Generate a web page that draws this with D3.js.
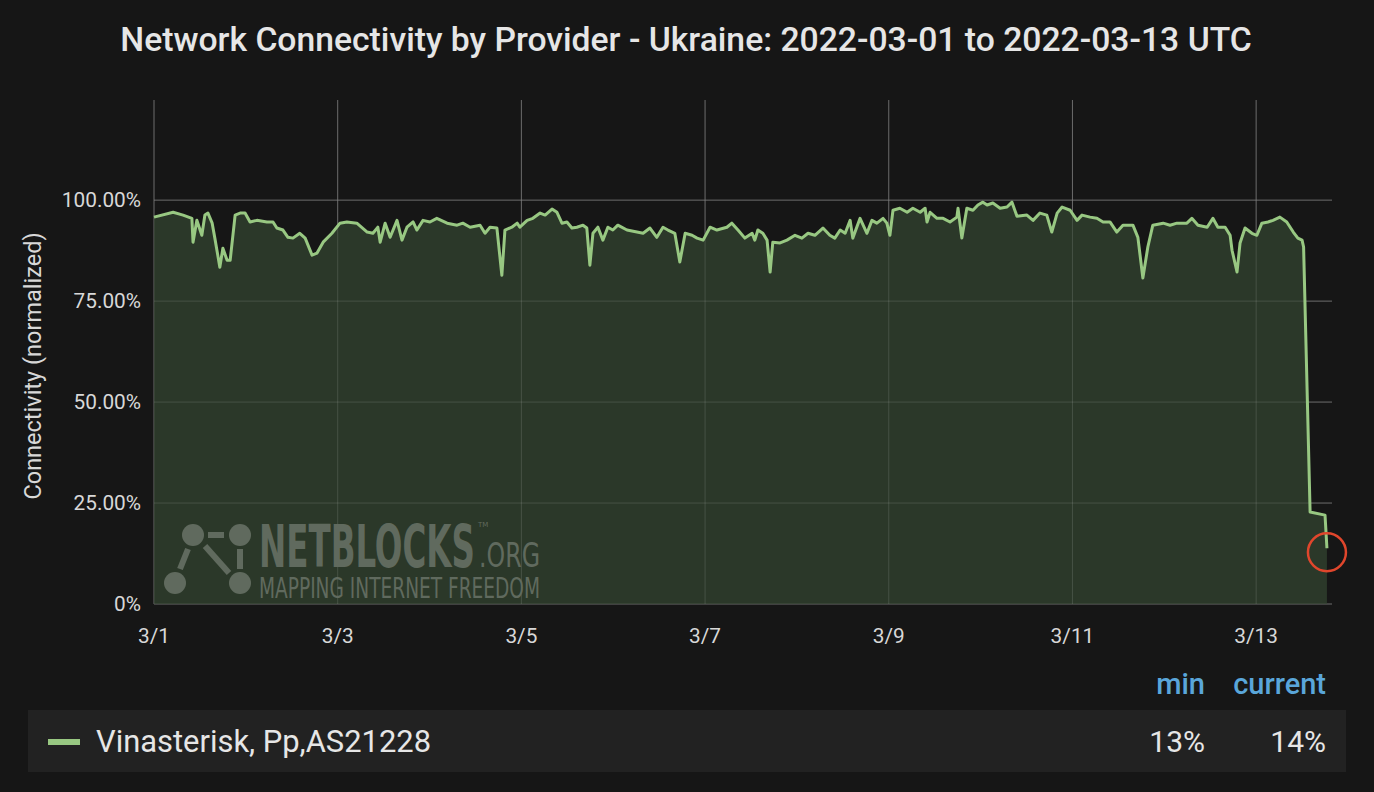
<!DOCTYPE html>
<html>
<head>
<meta charset="utf-8">
<script src="https://cdn.jsdelivr.net/npm/d3@7"></script>
<style>
  html, body { margin: 0; padding: 0; background: #161616; }
  svg { display: block; }
</style>
</head>
<body>
<svg id="chart" width="1374" height="792"></svg>
<script>
// ---- Data ----
const titleText = "Network Connectivity by Provider - Ukraine: 2022-03-01 to 2022-03-13 UTC";
const yAxisLabel = "Connectivity (normalized)";
const seriesName = "Vinasterisk, Pp,AS21228";
// hours since 2022-03-01 00:00 UTC
const hours = [
  0, 5.0, 7.6, 9.9, 10.2, 11.2, 12.5, 13.3, 14.1, 15.2, 15.9, 17.2, 18.0, 19.1, 19.9, 21.2, 22.5, 23.8,
  25.1, 26.9, 29.5, 31.1, 32.1, 33.7, 35.0, 36.3, 38.1, 39.5, 41.3, 42.6, 44.2, 46.5,
  48.6, 50.4, 53.0, 55.7, 57.2, 58.5, 59.1, 60.4, 61.7, 63.5, 64.8, 66.1, 67.7, 68.7, 70.3,
  72.1, 73.9, 76.6, 79.2, 80.7, 82.6, 85.2, 86.5, 87.8, 89.6, 90.9, 91.7, 93.5, 94.9,
  95.6, 97.5, 99.0, 100.9, 102.2, 104.0, 105.3, 106.6, 107.9, 109.2, 110.5, 112.1, 113.1, 113.9, 114.7, 116.0, 117.3, 118.6,
  119.9, 121.2, 123.6, 126.2, 127.8, 129.6, 131.4, 133.0, 134.3, 136.1, 137.4, 138.8, 140.6, 141.9,
  143.5, 145.3, 147.1, 149.7, 151.0, 152.6, 154.4, 156.3, 157.0, 157.8, 159.1, 160.2, 161.0, 161.7, 163.6, 165.4,
  167.5, 169.3, 170.9, 172.7, 174.8, 176.6, 177.9, 179.3, 180.6, 181.9, 182.6, 184.5, 186.3, 187.6, 188.9, 190.5,
  191.5, 192.3, 193.1, 194.9, 196.8, 198.3, 200.2, 201.5, 202.0, 202.8, 204.6, 206.2, 208.0, 209.8, 210.1, 211.1, 212.4, 214.0,
  215.3, 216.6, 217.7, 219.2, 221.1, 222.9, 224.2, 225.5, 228.1, 229.7, 231.5, 233.3, 234.6, 236.0, 237.3, 239.4,
  241.2, 242.5, 244.6, 246.4, 248.0, 249.8, 251.6, 253.2, 255.8, 257.1, 258.4, 259.7, 261.0, 263.7,
  265.5, 267.3, 269.9, 271.2, 272.8, 275.2, 276.7, 278.0, 279.9, 281.2, 281.7, 283.0, 283.8, 285.1, 286.9,
  288.2, 289.5, 291.1, 292.4, 294.2, 296.0, 297.7, 298.9, 300.0, 300.4, 302.1, 306.0, 306.5
];
// connectivity, percent
const values = [
  95.8, 97.0, 96.3, 95.5, 89.6, 95.0, 91.3, 96.3, 96.8, 94.3, 90.6, 83.4, 88.1, 85.1, 85.1, 96.3, 96.8, 96.8,
  94.6, 95.0, 94.6, 94.6, 93.1, 92.6, 90.8, 90.6, 91.8, 90.6, 86.4, 86.9, 89.6, 91.8,
  94.3, 94.6, 94.3, 92.1, 91.8, 93.3, 89.6, 94.3, 90.8, 95.0, 90.1, 93.3, 94.6, 92.6, 95.0,
  94.6, 95.5, 94.3, 93.8, 94.3, 93.3, 93.8, 91.8, 93.3, 93.1, 81.4, 92.6, 93.3, 94.3,
  93.3, 95.0, 95.5, 96.8, 96.3, 97.8, 97.0, 94.3, 94.6, 93.1, 93.3, 93.8, 93.1, 83.9, 91.8, 93.3, 90.1, 93.3,
  92.6, 93.8, 92.6, 92.1, 91.8, 93.1, 90.8, 93.3, 92.6, 91.8, 84.7, 91.8, 91.3, 90.6,
  90.1, 93.3, 92.6, 93.3, 94.3, 92.6, 90.6, 91.8, 90.1, 92.6, 91.8, 90.1, 82.2, 89.6, 89.4, 90.1,
  91.3, 90.6, 91.8, 91.3, 93.1, 91.3, 90.6, 92.6, 91.8, 95.0, 90.6, 95.5, 91.8, 95.0, 94.3, 95.5,
  94.3, 91.3, 97.5, 98.0, 97.0, 98.0, 97.0, 98.0, 94.6, 97.0, 95.5, 95.5, 94.6, 95.8, 98.0, 90.6, 98.0, 97.5,
  98.8, 99.5, 98.8, 99.3, 98.0, 98.3, 99.5, 96.0, 96.3, 95.0, 96.8, 96.3, 92.1, 96.8, 98.3, 97.5,
  95.0, 96.3, 95.8, 95.5, 94.6, 94.6, 92.1, 93.8, 93.8, 90.8, 80.7, 88.4, 93.8, 94.3,
  93.8, 94.3, 94.3, 95.5, 93.8, 93.3, 95.5, 93.3, 93.3, 91.3, 87.6, 82.2, 89.4, 93.1, 91.8,
  91.3, 94.3, 94.6, 95.0, 95.8, 94.6, 92.1, 90.6, 90.1, 88.4, 22.8, 22.0, 13.8
];
const xTickDays = ["2022-03-01", "2022-03-03", "2022-03-05", "2022-03-07", "2022-03-09", "2022-03-11", "2022-03-13"];
const yTicks = [0, 25, 50, 75, 100];
const statLabels = ["min", "current"];
const statValues = [13, 14];

// ---- Layout ----
const svg = d3.select("#chart");
const W = 1374, H = 792;
const m = { left: 154, right: 1330, top: 100, bottom: 604 };
const start = Date.UTC(2022, 2, 1);
const HOUR = 3600 * 1000;
const pts = hours.map((h, i) => ({ t: new Date(start + h * HOUR), v: values[i] }));

svg.append("rect").attr("width", W).attr("height", H).attr("fill", "#161616");

const x = d3.scaleUtc().domain([new Date(start), new Date(start + 307.3 * HOUR)]).range([m.left, m.right]);
const y = d3.scaleLinear().domain([0, 124.8]).range([m.bottom, m.top]);

// title
svg.append("text").attr("x", 686).attr("y", 51).attr("text-anchor", "middle")
  .attr("font-family", "Roboto, sans-serif").attr("font-weight", 500).attr("font-size", 33.7)
  .attr("fill", "#e6e6e6").text(titleText);

// gridlines
const gridColor = "#555555";
const xTickDates = xTickDays.map(s => new Date(s + "T00:00:00Z"));
svg.append("g").selectAll("line").data(xTickDates).join("line")
  .attr("x1", d => x(d)).attr("x2", d => x(d)).attr("y1", m.top).attr("y2", m.bottom)
  .attr("stroke", gridColor).attr("stroke-width", 1);
svg.append("g").selectAll("line").data(yTicks).join("line")
  .attr("x1", m.left).attr("x2", m.right + 2).attr("y1", d => y(d)).attr("y2", d => y(d))
  .attr("stroke", gridColor).attr("stroke-width", 1);

// area + line
const area = d3.area().x(d => x(d.t)).y0(y(0)).y1(d => y(d.v)).curve(d3.curveLinear);
const line = d3.line().x(d => x(d.t)).y(d => y(d.v)).curve(d3.curveLinear);
svg.append("path").datum(pts).attr("d", area).attr("fill", "#2b3829").attr("fill-opacity", 1);

// gridlines faintly visible through the fill (as in the reference)
svg.append("g").selectAll("line").data(xTickDates).join("line")
  .attr("x1", d => x(d)).attr("x2", d => x(d)).attr("y1", m.top).attr("y2", m.bottom)
  .attr("stroke", "#ffffff").attr("stroke-opacity", 0.13).attr("stroke-width", 1);
svg.append("g").selectAll("line").data(yTicks).join("line")
  .attr("x1", m.left).attr("x2", m.right + 2).attr("y1", d => y(d)).attr("y2", d => y(d))
  .attr("stroke", "#ffffff").attr("stroke-opacity", 0.13).attr("stroke-width", 1);

// watermark
const wmColor = "#606a5e";
const wm = svg.append("g").attr("fill", wmColor).attr("stroke", wmColor);
const nodes = [[193, 535], [240, 535], [175, 583], [240, 583]];
wm.selectAll("circle").data(nodes).join("circle")
  .attr("cx", d => d[0]).attr("cy", d => d[1]).attr("r", 11).attr("stroke", "none");
const links = [[[208, 535], [224, 535]], [[188, 549], [180, 569]], [[205, 546], [229, 573]], [[240, 549], [240, 569]]];
wm.selectAll("line").data(links).join("line")
  .attr("x1", d => d[0][0]).attr("y1", d => d[0][1]).attr("x2", d => d[1][0]).attr("y2", d => d[1][1])
  .attr("stroke-width", 6);
wm.append("text").attr("x", 259).attr("y", 567).attr("stroke", "none")
  .attr("font-family", "'DejaVu Sans Condensed', 'DejaVu Sans', sans-serif").attr("font-weight", "bold")
  .attr("font-size", 58).attr("textLength", 216).attr("lengthAdjust", "spacingAndGlyphs").text("NETBLOCKS");
wm.append("text").attr("x", 478).attr("y", 527).attr("stroke", "none")
  .attr("font-family", "'DejaVu Sans', sans-serif").attr("font-size", 7).text("TM");
wm.append("text").attr("x", 479).attr("y", 567).attr("stroke", "none")
  .attr("font-family", "'DejaVu Sans Condensed', 'DejaVu Sans', sans-serif")
  .attr("font-size", 34).attr("textLength", 61).attr("lengthAdjust", "spacingAndGlyphs").text(".ORG");
wm.append("text").attr("x", 259).attr("y", 598).attr("stroke", "none")
  .attr("font-family", "'DejaVu Sans Condensed', 'DejaVu Sans', sans-serif")
  .attr("font-size", 28).attr("textLength", 281).attr("lengthAdjust", "spacingAndGlyphs").text("MAPPING INTERNET FREEDOM");

svg.append("path").datum(pts).attr("d", line).attr("fill", "none")
  .attr("stroke", "#98c882").attr("stroke-width", 3).attr("stroke-linejoin", "round");

// end-point highlight circle
const last = pts[pts.length - 1];
svg.append("circle").attr("cx", x(last.t)).attr("cy", y(last.v) + 4).attr("r", 19)
  .attr("fill", "none").attr("stroke", "#e0462c").attr("stroke-width", 2.5);

// axes labels
const labelFont = "Roboto, sans-serif";
svg.append("g").selectAll("text").data(yTicks).join("text")
  .attr("x", 141).attr("y", d => y(d) + 7).attr("text-anchor", "end")
  .attr("font-family", labelFont).attr("font-size", 20.8).attr("fill", "#d8d8d8")
  .text(d => d === 0 ? "0%" : d3.format(".2f")(d) + "%");
const fmt = d3.utcFormat("%-m/%-d");
svg.append("g").selectAll("text").data(xTickDates).join("text")
  .attr("x", d => x(d)).attr("y", 643).attr("text-anchor", "middle")
  .attr("font-family", labelFont).attr("font-size", 20.8).attr("fill", "#d8d8d8")
  .text(d => fmt(d));
svg.append("text").attr("transform", "translate(41,366) rotate(-90)").attr("text-anchor", "middle")
  .attr("font-family", labelFont).attr("font-size", 23.5).attr("fill", "#d8d8d8").text(yAxisLabel);

// legend
svg.append("rect").attr("x", 28).attr("y", 710).attr("width", 1318).attr("height", 62).attr("fill", "#222222");
svg.append("line").attr("x1", 48).attr("x2", 80).attr("y1", 742).attr("y2", 742)
  .attr("stroke", "#98c882").attr("stroke-width", 6);
svg.append("text").attr("x", 96).attr("y", 752).attr("font-family", labelFont)
  .attr("font-size", 30.9).attr("fill", "#e6e6e6").text(seriesName);
const statX = [1205, 1326];
svg.append("g").selectAll("text").data(statLabels).join("text")
  .attr("x", (d, i) => statX[i]).attr("y", 694).attr("text-anchor", "end")
  .attr("font-family", labelFont).attr("font-weight", 500).attr("font-size", 29).attr("fill", "#5aa6da")
  .text(d => d);
svg.append("g").selectAll("text").data(statValues).join("text")
  .attr("x", (d, i) => statX[i]).attr("y", 752).attr("text-anchor", "end")
  .attr("font-family", labelFont).attr("font-size", 30).attr("fill", "#e6e6e6")
  .text(d => d + "%");
</script>
</body>
</html>
